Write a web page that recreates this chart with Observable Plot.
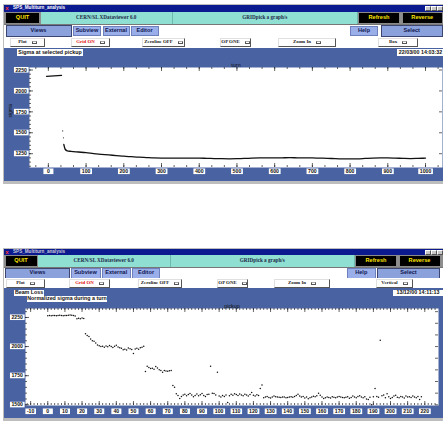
<!DOCTYPE html>
<html><head><meta charset="utf-8">
<script src="https://cdn.jsdelivr.net/npm/d3@7"></script>
<script src="https://cdn.jsdelivr.net/npm/@observablehq/plot@0.6"></script>
<style>
html,body{margin:0;padding:0;background:#fff;}
#root{position:relative;width:443px;height:423px;overflow:hidden;background:#fff;}
.b{position:absolute;box-sizing:border-box;display:flex;align-items:center;justify-content:center;white-space:nowrap;overflow:hidden;line-height:1;}
.sans{font-family:"Liberation Sans","DejaVu Sans",sans-serif;font-weight:bold;}
.serif{font-family:"Liberation Serif","DejaVu Serif",serif;font-weight:bold;}
.blk{background:#000;color:#ffe600;border:1px solid #8a8a8a;font-size:5.6px;}
.cyan{background:#8fe0d3;color:#1d2a4a;font-size:5.2px;border-right:1px solid #6fb8ad;}
.vw{background:#8ba1dc;color:#101850;border:1px solid #3c4670;font-size:5.6px;}
.sv{background:#9aaeea;color:#101850;border:1px solid #6e80bb;font-size:5.6px;}
.mn{background:#fff;color:#222;border-top:1px solid #e0e0e0;border-left:1px solid #e0e0e0;border-right:1px solid #555;border-bottom:1px solid #555;font-size:4.9px;}
.tg{display:inline-block;box-sizing:border-box;width:5px;height:3px;border:1px solid #555;border-top-color:#aaa;margin-left:5px;}
.lab{background:#fff;color:#111;font-size:5.3px;padding:0 1px;}
svg.pl{position:absolute;left:0;}
</style></head>
<body><div id="root"></div>
<script>
// ---------- data ----------
// Chart 1: sigma at selected pickup vs turn
const turnFlat  = [-5, 5, 15, 25, 35];
const sigmaFlat = [2175, 2177, 2180, 2183, 2185];
const turnJump  = [38, 40];
const sigmaJump = [1522, 1440];
const turnDecay  = [41, 45, 50, 60, 80, 100, 120, 140, 160, 180, 200, 220, 240, 260, 280, 300, 320, 340, 360, 380, 400, 420, 440, 460, 480, 500, 520, 540, 560, 580, 600, 620, 640, 660, 680, 700, 720, 740, 760, 780, 800, 820, 840, 860, 880, 900, 920, 940, 960, 980, 1000];
const sigmaDecay = [1360, 1300, 1285, 1278, 1270, 1262, 1252, 1243, 1235, 1228, 1220, 1214, 1208, 1204, 1200, 1198, 1197, 1196, 1197, 1198, 1197, 1195, 1192, 1190, 1189, 1190, 1193, 1197, 1200, 1201, 1200, 1201, 1202, 1201, 1200, 1199, 1197, 1195, 1191, 1188, 1187, 1189, 1193, 1197, 1199, 1199, 1197, 1194, 1192, 1194, 1197];
const xLabels1 = [0, 100, 200, 300, 400, 500, 600, 700, 800, 900, 1000];
const yLabels1 = [1250, 1500, 1750, 2000, 2250];

// Chart 2: normalized sigma during a turn, one value per pickup (0..218)
const sigma2 = [
  2265,2266,2264,2266,2267,2265,2266,2268,2266,2265,2267,2266,2268,2272,2270,2266,2262,
  2240,2244,2238,2246,2242,
  2110,2095,2087,2065,2050,2045,2030,2014,
  2008,2000,2003,1995,2005,1998,2010,2000,1992,2002,2012,1996,1990,1985,1973,1978,1970,1988,1982,1975,1940,1980,1985,1978,1990,1995,2002,
  1785,1830,1820,1812,1813,1805,1828,1815,1802,1795,1780,1795,1790,1788,1792,1795,
  1665,1650,1595,1580,1555,
  1572,1585,1590,1578,1588,1596,1584,1570,1580,1592,1578,1586,1598,1580,1572,1588,1590,1830,1600,1598,1585,1780,1575,1568,1580,1572,1585,1520,1578,1590,1582,1595,1588,1580,1592,1585,1578,1590,1584,1576,1588,1605,1582,1575,1586,1580,1640,1670,
  1560,1568,1572,1562,1558,1566,1575,1570,1568,1565,1562,1568,1566,1560,1563,1567,1570,1565,1572,1580,1590,1575,1568,1572,1558,1566,1552,1560,1568,1574,1570,1578,1600,1582,1566,1555,1560,1568,1562,1558,1570,1565,1560,1568,1572,1566,1562,1560,1565,1570,1556,1562,1575,1568,1560,1572,1578,1566,1560,1570,1550,1545,1565,1500,1570,1640,1572,1565,2055,1578,1585,1560,1595,1570,1555,1562,1575,1582,1565,1560,1572,1568,1558,1575,1566,1570,1562,1575,1568,1560,1572,1545,1570
];
const xLabels2 = [-10, 0, 10, 20, 30, 40, 50, 60, 70, 80, 90, 100, 110, 120, 130, 140, 150, 160, 170, 180, 190, 200, 210, 220];
const yLabels2 = [1500, 1750, 2000, 2250];

// ---------- GUI chrome ----------
const root = document.getElementById("root");
function box(x, y, w, h, cls, html, extra) {
  const d = document.createElement("div");
  d.className = "b " + cls;
  Object.assign(d.style, {left: x + "px", top: y + "px", width: w + "px", height: h + "px"}, extra || {});
  if (html != null) d.innerHTML = html;
  root.appendChild(d);
  return d;
}
const TG = '<span class="tg"></span>';

function windowChrome(c) {
  box(3, c.t - 1, 440, c.bottom - c.t + 4, "", null, {background: "#bdbdbd"});
  box(4, c.t, 439, 6.5, "sans", "SPS_Multiturn_analysis", {background: "#0b1b8f", color: c.titleColor, fontSize: "4.6px", justifyContent: "flex-start", paddingLeft: "9px"});
  box(4.5, c.t + 0.5, 5, 5.5, "sans", "x", {color: "#ff3030", fontSize: "6px"});
  for (const xx of [425, 431, 437]) box(xx, c.t + 1, 5.5, 4.5, "", null, {background: "#c8c8c8", border: "1px solid", borderColor: "#fff #555 #555 #fff"});
  box(4, c.r2, 439, 12.5, "", null, {background: "#8e8e8e"});
  box(c.quit[0], c.r2 + 0.5, c.quit[1], 11.5, "blk sans", "QUIT");
  box(c.cy1[0], c.r2, c.cy1[1], 12.5, "cyan serif", "CERN/SL XDataviewer 6.0");
  box(c.cy2[0], c.r2, c.cy2[1], 12.5, "cyan serif", "GRIDpick a graph/s");
  box(c.ref[0], c.r2 + 0.5, c.ref[1], 11.5, "blk sans", "Refresh");
  box(c.rev[0], c.r2 + 0.5, c.rev[1], 11.5, "blk sans", "Reverse");
  box(4, c.r3, 439, 13, "", null, {background: "#fff", borderTop: "1px solid #777"});
  box(c.views[0], c.r3 + 1, c.views[1], 11.5, "vw sans", "Views");
  box(c.sub[0], c.r3 + 1.5, c.sub[1], 10.5, "sv sans", "Subview");
  box(c.ext[0], c.r3 + 1.5, c.ext[1], 10.5, "sv sans", "External");
  box(c.edi[0], c.r3 + 1.5, c.edi[1], 10.5, "sv sans", "Editor");
  box(c.help[0], c.r3 + 1.5, c.help[1], 10.5, "sv sans", "Help");
  box(c.sel[0], c.r3 + 1, c.sel[1], 11.5, "vw sans", "Select");
  box(4, c.r4, 439, c.panel - c.r4, "", null, {background: "#fff"});
  for (const m of c.menus) {
    box(m[0], c.r4 + 1, m[1], 8.5, "mn serif", (m[3] ? '<span style="color:#e01010">' + m[2] + '</span>' : m[2]) + TG);
  }
  box(4, c.panel, 439, c.bottom - c.panel, "", null, {background: "#4862a2"});
  for (const l of c.labels) box(l[0], l[1], l[2], 6.5, "lab sans", l[3]);
}

windowChrome({
  t: 5, r2: 11.5, r3: 24, r4: 37, panel: 48, bottom: 181, titleColor: "#fff",
  quit: [5, 35], cy1: [40.5, 132.5], cy2: [173, 184.5], ref: [358, 42], rev: [401.5, 41.5],
  views: [5.5, 66], sub: [73, 28], ext: [102.5, 27], edi: [130.5, 28], help: [350, 28], sel: [380.5, 62.5],
  menus: [[10, 35, "Plot"], [71, 39, "Grid ON", true], [142, 43, "Zeroline OFF"], [220, 31, "OP ONE"], [278, 58, "Zoom In"], [378, 40, "Box"]],
  labels: [[17, 49, 66, "Sigma at selected pickup"], [397, 49, 47, "22/03/00 14:03:32"]]
});
windowChrome({
  t: 249, r2: 254.5, r3: 266.5, r4: 278, panel: 288, bottom: 418, titleColor: "#c8c8d8",
  quit: [4.5, 33], cy1: [38, 132.5], cy2: [171, 183.5], ref: [355, 42], rev: [398.5, 42],
  views: [5, 65], sub: [70.5, 30], ext: [101.5, 29.5], edi: [132, 28], help: [347, 28.5], sel: [377, 63],
  menus: [[6, 39, "Plot"], [69, 41, "Grid ON", true], [138, 44, "Zeroline OFF"], [217, 31, "OP ONE"], [274, 56, "Zoom In"], [376, 37, "Vertical"]],
  labels: [[14, 289.5, 30, "Beam Loss"], [27, 295.5, 80, "Normalized sigma during a turn"], [393, 289.5, 50, "13/12/00 14:11:13"]]
});

// ---------- plots ----------
const TXT = {fontSize: 5.2, fontWeight: "bold", fontFamily: "Liberation Sans, DejaVu Sans, sans-serif", fill: "#111"};
const TK = {stroke: "#222", strokeWidth: 0.7};

function addBoxes(svg) {
  const sel = (name) => svg.querySelectorAll('g[aria-label="' + name + '"] text');
  const mk = (t, fn) => {
    const b = t.getBBox();
    const [x, y, w, h] = fn(b);
    const r = document.createElementNS("http://www.w3.org/2000/svg", "rect");
    r.setAttribute("x", x); r.setAttribute("y", y); r.setAttribute("width", w); r.setAttribute("height", h);
    r.setAttribute("fill", "#fff"); r.setAttribute("stroke", "none");
    const tr = t.getAttribute("transform"); if (tr) r.setAttribute("transform", tr);
    t.parentNode.insertBefore(r, t);
  };
  sel("x-axis tick label").forEach(t => mk(t, b => { const w = Math.max(b.width + 3, 10); return [b.x + b.width / 2 - w / 2, b.y + 0.3, w, b.height - 0.4]; }));
  sel("y-axis tick label").forEach(t => mk(t, b => [b.x - 1.5, b.y + 0.3, b.width + 3, b.height - 0.4]));
  sel("tlab").forEach(t => mk(t, b => [b.x - 1, b.y + 0.2, b.width + 2, b.height - 0.2]));
}

function axisMarks(o) {
  const FW = o.width - o.ml - o.mr, FH = o.height - o.mt - o.mb;
  return [
    Plot.frame({fill: "#fff", stroke: "none"}),
    Plot.tickX(o.xMinor, {x: d => d, insetTop: FH - 2, ...TK}),
    Plot.tickX(o.xMinor, {x: d => d, insetBottom: FH - 2, ...TK}),
    Plot.tickX(o.xMajor, {x: d => d, insetTop: FH - 4, ...TK}),
    Plot.tickX(o.xMajor, {x: d => d, insetBottom: FH - 4, ...TK}),
    Plot.tickY(o.yMinor, {y: d => d, insetRight: FW - 2, ...TK}),
    Plot.tickY(o.yLabels, {y: d => d, insetRight: FW - 4, ...TK}),
    Plot.tickY(o.yRight, {y: d => d, insetLeft: FW - 3, ...TK}),
    Plot.axisX(o.xMajor, {anchor: "bottom", tickSize: 0, tickPadding: o.xpad, tickFormat: d => String(d), label: null, ...TXT}),
    Plot.axisY(o.yLabels, {anchor: "left", tickSize: 0, tickPadding: 2.5, tickFormat: d => String(d), label: null, ...TXT}),
    Plot.text([o.xTitle], {text: d => d, frameAnchor: "top", dy: -4, ariaLabel: "tlab", ...TXT, fontWeight: "normal", fontSize: 5.4})
  ];
}

// Chart 1
const o1 = {width: 443, height: 133, ml: 29, mr: 1, mt: 19, mb: 14, xpad: 2,
  xMajor: xLabels1, xMinor: d3.range(-33.33, 1045, 33.333), yLabels: yLabels1, yMinor: d3.range(1100, 2281, 50), yRight: yLabels1, xTitle: "turn"};
const p1 = Plot.plot({
  width: o1.width, height: o1.height, marginLeft: o1.ml, marginRight: o1.mr, marginTop: o1.mt, marginBottom: o1.mb,
  x: {domain: [-50, 1045], axis: null}, y: {domain: [1085, 2280], axis: null},
  style: {background: "transparent", overflow: "visible"},
  marks: [
    ...axisMarks(o1),
    Plot.text(["sigma"], {text: d => d, frameAnchor: "left", rotate: -90, dx: -19, ariaLabel: "tlab", ...TXT, fontWeight: "normal", fontSize: 5}),
    Plot.line(turnFlat, {x: turnFlat, y: sigmaFlat, stroke: "#111", strokeWidth: 1.2}),
    Plot.dot(turnJump, {x: turnJump, y: sigmaJump, r: 0.6, fill: "#333", stroke: "none"}),
    Plot.line(turnDecay, {x: turnDecay, y: sigmaDecay, stroke: "#111", strokeWidth: 1.3, curve: "monotone-x"})
  ]
});
p1.classList.add("pl"); p1.style.top = "48px";
root.appendChild(p1);
addBoxes(p1);

// Chart 2
const o2 = {width: 443, height: 130, ml: 25, mr: 5, mt: 20, mb: 13, xpad: 4,
  xMajor: xLabels2, xMinor: d3.range(-12, 228, 2), yLabels: yLabels2, yMinor: d3.range(1500, 2327, 50), yRight: d3.range(1500, 2327, 100), xTitle: "pickup"};
const p2 = Plot.plot({
  width: o2.width, height: o2.height, marginLeft: o2.ml, marginRight: o2.mr, marginTop: o2.mt, marginBottom: o2.mb,
  x: {domain: [-13, 228], axis: null}, y: {domain: [1494, 2327], axis: null},
  style: {background: "transparent", overflow: "visible"},
  marks: [
    ...axisMarks(o2),
    Plot.dot(sigma2, {x: (d, i) => i, y: d => d, r: 0.75, fill: "#111", stroke: "none"})
  ]
});
p2.classList.add("pl"); p2.style.top = "288px";
root.appendChild(p2);
addBoxes(p2);
</script></body></html>
